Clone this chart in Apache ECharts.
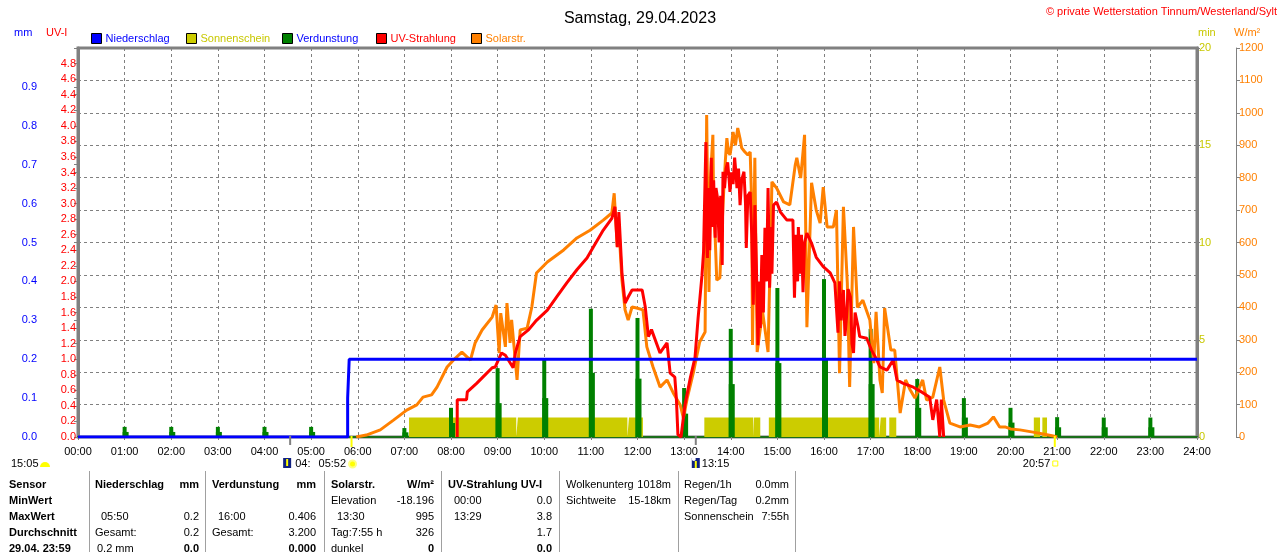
<!DOCTYPE html>
<html><head><meta charset="utf-8">
<script src="https://cdn.jsdelivr.net/npm/echarts@6/dist/echarts.min.js"></script>
<style>html,body{margin:0;padding:0;background:#fff}#c{width:1280px;height:552px}</style>
</head><body><div id="c"></div>
<script>
// ---- data ----
const hourLabels = ['00:00','01:00','02:00','03:00','04:00','05:00','06:00','07:00','08:00','09:00','10:00','11:00','12:00','13:00','14:00','15:00','16:00','17:00','18:00','19:00','20:00','21:00','22:00','23:00','24:00'];

const rainTimes  = ['00:00','05:47','05:47','05:49','05:49','24:00'];
const rainValues = [0, 0, 0.1, 0.1, 0.2, 0.2];

const sunStart = ['07:06','09:26','11:49','13:26','14:30','14:49','17:04','17:13','17:24','20:30','20:41'];
const sunEnd   = ['09:24','11:47','12:07','14:29','14:38','16:58','17:11','17:20','17:33','20:38','20:47'];

const evapTimes = ['01:00','02:00','03:00','04:00','05:00','07:00','08:00','09:00','10:00','11:00','12:00','13:00','14:00','15:00','16:00','17:00','18:00','19:00','20:00','21:00','22:00','23:00'];
const evapPeak  = [0.026,0.026,0.026,0.026,0.026,0.023,0.075,0.177,0.203,0.330,0.306,0.126,0.278,0.383,0.406,0.278,0.149,0.100,0.075,0.051,0.050,0.050];
const evapBase  = [0.013,0.013,0.013,0.013,0.013,0.012,0.036,0.087,0.100,0.165,0.150,0.060,0.136,0.190,0.200,0.136,0.075,0.050,0.037,0.025,0.025,0.025];

const solarTimes = ['05:58','06:11','06:29','06:46','07:03','07:16','07:24','07:35','07:42','07:55','08:03','08:14','08:25','08:31','08:40','08:53','08:58','09:02','09:04','09:10','09:12','09:16','09:18','09:25','09:29','09:38','09:44','09:50','10:04','10:25','10:42','10:59','11:16','11:27','11:30','11:34','11:36','11:40','11:44','11:48','11:53','11:59','12:07','12:12','12:20','12:29','12:38','12:46','12:55','12:59','13:04','13:12','13:20','13:27','13:29','13:31','13:32','13:34','13:37','13:38','13:40','13:42','13:44','13:46','13:48','13:50','13:53','13:55','13:57','13:59','14:01','14:03','14:06','14:09','14:12','14:14','14:18','14:22','14:25','14:27','14:28','14:31','14:34','14:41','14:48','14:53','14:59','15:08','15:16','15:23','15:25','15:30','15:35','15:38','15:44','15:50','15:55','15:59','16:04','16:12','16:16','16:20','16:25','16:30','16:33','16:38','16:43','16:50','16:59','17:04','17:07','17:12','17:15','17:18','17:26','17:31','17:38','17:45','17:51','17:57','18:07','18:12','18:20','18:29','18:34','18:42','18:55','19:08','19:20','19:31','19:38','19:46','19:53','20:00','20:12','20:29','20:42','20:55','21:00'];
const solarValues = [0,6,22,52,83,99,123,130,154,216,237,262,237,290,330,370,407,259,382,278,413,290,361,176,330,336,401,506,540,577,614,638,669,691,752,586,648,484,392,361,401,398,392,278,216,154,176,136,99,59,120,200,293,324,993,600,447,800,932,700,614,484,484,491,600,716,850,922,880,870,900,941,900,953,920,892,880,870,879,716,284,861,262,386,262,787,768,725,716,839,861,799,932,339,784,700,660,771,648,648,700,197,710,475,154,648,400,422,361,228,386,176,136,398,268,268,74,176,145,120,176,114,123,216,114,43,31,37,31,43,62,31,31,25,22,15,9,3,0];

const uvTimes = ['08:08','08:08','08:20','08:21','08:33','08:41','08:53','08:57','09:05','09:10','09:20','09:23','09:29','09:40','09:50','10:04','10:16','10:29','10:42','10:55','11:03','11:16','11:27','11:31','11:34','11:36','11:40','11:44','11:48','11:53','12:06','12:10','12:14','12:18','12:29','12:38','12:42','12:48','12:50','12:52','12:56','13:01','13:08','13:14','13:18','13:23','13:25','13:28','13:29','13:30','13:31','13:33','13:35','13:36','13:38','13:40','13:41','13:43','13:45','13:47','13:49','13:50','13:52','13:54','13:56','13:58','13:59','14:01','14:03','14:05','14:07','14:08','14:10','14:12','14:14','14:17','14:19','14:20','14:22','14:25','14:27','14:29','14:31','14:33','14:35','14:37','14:38','14:40','14:42','14:44','14:46','14:48','14:50','14:52','14:53','14:55','14:59','15:04','15:12','15:20','15:22','15:24','15:26','15:27','15:29','15:31','15:33','15:35','15:38','15:44','15:50','15:59','16:08','16:14','16:18','16:20','16:22','16:25','16:27','16:29','16:31','16:34','16:36','16:38','16:40','16:44','16:46','16:55','17:01','17:06','17:12','17:21','17:29','17:34','17:42','17:55','18:07','18:16','18:20','18:25','18:29','18:31','18:34'];
const uvValues = [0,0.48,0.48,0.58,0.69,0.77,0.89,0.90,1.08,1.05,0.89,1.09,1.29,1.38,1.50,1.63,1.80,1.98,2.15,2.30,2.44,2.66,2.81,2.96,2.44,2.89,2.11,1.72,1.80,1.89,1.89,1.67,1.29,1.38,1.08,1.21,0.82,0.77,0.50,0.03,0,0.41,0.76,1.02,1.53,2.08,2.38,3.79,2.60,2.30,3.20,2.40,3.59,2.70,3.30,2.56,3.20,3.07,2.50,3.10,2.21,3.41,3.20,3.45,3.53,3.30,3.15,3.40,3.25,3.59,3.35,3.20,3.45,2.98,3.30,3.41,3.00,2.43,3.10,3.15,2.60,1.70,2.98,2.20,1.18,2.00,1.40,2.34,1.60,2.69,2.00,3.20,1.92,2.70,2.10,2.98,3.02,2.89,2.79,2.79,1.79,2.60,2.00,2.70,2.10,2.60,1.86,2.50,2.62,2.49,2.31,2.19,2.11,1.98,1.34,2.00,1.50,1.89,1.30,1.54,1.90,1.80,1.20,1.08,1.60,1.41,1.29,1.27,1.12,1.03,0.90,0.86,0.99,0.73,0.69,0.64,0.57,0.51,0.22,0.48,0,0.48,0];

// ---- helpers ----
function tm(s){const p=s.split(':');return (+p[0])*60+(+p[1]);}
function pairs(t,v){return t.map((s,i)=>[tm(s),v[i]]);}
const sunData=[[0,0]];
sunStart.forEach((s,i)=>{sunData.push([tm(s),1]);sunData.push([tm(sunEnd[i]),0]);});
sunData.push([1440,0]);

const FONT='"Liberation Sans", Arial, sans-serif';
const GRAY='#808080';
const chart=echarts.init(document.getElementById('c'),null,{renderer:'canvas'});

function leg(name,left,color){
  return {show:true,selectedMode:false,left:left,top:28,itemWidth:10,itemHeight:10,icon:'rect',
    itemStyle:{borderColor:'#000',borderWidth:1},
    textStyle:{fontFamily:FONT,fontSize:11,color:color,padding:[0,0,0,-1]},
    data:[{name:name}]};
}

const option={
  animation:false,
  backgroundColor:'#fff',
  title:{text:'Samstag, 29.04.2023',left:'center',top:6,textStyle:{fontFamily:FONT,fontSize:16,fontWeight:'normal',color:'#000'}},
  legend:[leg('Niederschlag',86,'#0000ff'),leg('Sonnenschein',181,'#c8c800'),leg('Verdunstung',277,'#0000ff'),leg('UV-Strahlung',371,'#ff0000'),leg('Solarstr.',466,'#ff8000')],
  grid:{left:78,right:83,top:48,bottom:115,show:true,borderColor:GRAY,borderWidth:3,backgroundColor:'#fff'},
  xAxis:{type:'value',min:0,max:1440,interval:60,
    axisLine:{lineStyle:{color:'#1a6e1a',width:2}},
    axisTick:{show:true,length:3,lineStyle:{color:GRAY}},
    axisLabel:{margin:9,fontFamily:FONT,fontSize:11,color:'#000',formatter:v=>hourLabels[Math.round(v/60)]},
    splitLine:{show:true,lineStyle:{color:GRAY,type:[3,3],width:1}}},
  yAxis:[
    {type:'value',position:'left',offset:38,min:0,max:1.0,interval:0.1,
      axisLine:{show:true,lineStyle:{color:GRAY,width:1}},axisTick:{show:true,length:4,lineStyle:{color:GRAY}},
      axisLabel:{margin:3,fontFamily:FONT,fontSize:11,color:'#0000ff',formatter:v=>v>=0.999?'':v.toFixed(1)},splitLine:{show:false}},
    {type:'value',position:'left',offset:0,min:0,max:5,interval:0.2,
      axisLine:{show:true,lineStyle:{color:GRAY,width:3}},axisTick:{show:true,length:4,lineStyle:{color:GRAY}},
      axisLabel:{margin:2,fontFamily:FONT,fontSize:11,color:'#ff0000',formatter:v=>v>=4.99?'':v.toFixed(1)},splitLine:{show:false}},
    {type:'value',position:'right',offset:0,min:0,max:20,interval:5,
      axisLine:{show:true,lineStyle:{color:GRAY,width:3}},axisTick:{show:true,length:3,lineStyle:{color:GRAY}},
      axisLabel:{margin:2,fontFamily:FONT,fontSize:11,color:'#c8c800',formatter:v=>String(v)},splitLine:{show:false}},
    {type:'value',position:'right',offset:39,min:0,max:1200,interval:100,
      axisLine:{show:true,lineStyle:{color:GRAY,width:1}},axisTick:{show:true,length:4,lineStyle:{color:GRAY}},
      axisLabel:{margin:3,fontFamily:FONT,fontSize:11,color:'#ff8000',formatter:v=>String(v)},
      splitLine:{show:true,lineStyle:{color:GRAY,type:[3,3],width:1}}}
  ],
  series:[
    {name:'Sonnenschein',type:'line',yAxisIndex:2,step:'end',symbol:'none',color:'#cccc00',
      lineStyle:{width:0},areaStyle:{color:'#cccc00',opacity:1},data:sunData,z:2},
    {name:'Verdunstung',type:'bar',yAxisIndex:0,color:'#008000',barWidth:6,itemStyle:{color:'#008000'},
      data:pairs(evapTimes,evapBase),z:3},
    {name:'Verdunstung',type:'bar',yAxisIndex:0,color:'#008000',barWidth:4,barGap:'-100%',itemStyle:{color:'#008000'},
      data:pairs(evapTimes,evapPeak),z:3},
    {name:'Solarstr.',type:'line',yAxisIndex:3,symbol:'none',color:'#ff8000',lineStyle:{width:3,color:'#ff8000'},
      data:pairs(solarTimes,solarValues),z:4},
    {name:'UV-Strahlung',type:'line',yAxisIndex:1,symbol:'none',color:'#ff0000',lineStyle:{width:3,color:'#ff0000'},
      data:pairs(uvTimes,uvValues),z:5},
    {name:'Niederschlag',type:'line',yAxisIndex:0,symbol:'none',color:'#0000ff',lineStyle:{width:3,color:'#0000ff'},
      data:pairs(rainTimes,rainValues),z:6}
  ]
};
chart.setOption(option);

// ---- annotations (text, table) ----
function txt(x,y,s,o){o=o||{};return {type:'text',x:x,y:y,silent:true,z:100,
  style:{text:s,font:(o.bold?'bold ':'')+(o.size||11)+'px '+FONT,fill:o.color||'#000',
  textAlign:o.align||'left',textVerticalAlign:'middle'}};}
const px=m=>chart.convertToPixel({xAxisIndex:0},m);
const g=[];
g.push(txt(1277,12,'© private Wetterstation Tinnum/Westerland/Sylt',{color:'#ff0000',align:'right'}));
g.push(txt(14,33,'mm',{color:'#0000ff'}));
g.push(txt(46,33,'UV-I',{color:'#ff0000'}));
g.push(txt(1198,33,'min',{color:'#c8c800'}));
g.push(txt(1234,33,'W/m²',{color:'#ff8000'}));

// astro markers
const xMoonRise=px(tm('04:33')), xSunRise=px(tm('05:52')), xMoon2=px(tm('13:15')), xSunSet=px(tm('20:57'));
[xMoonRise,xMoon2].forEach(x=>g.push({type:'line',silent:true,z:99,shape:{x1:x,y1:436,x2:x,y2:445},style:{stroke:GRAY,lineWidth:2}}));
[xSunRise,xSunSet].forEach(x=>g.push({type:'line',silent:true,z:99,shape:{x1:x,y1:436,x2:x,y2:447},style:{stroke:'#ffff00',lineWidth:2}}));
g.push(txt(11,464,'15:05'));
g.push({type:'sector',silent:true,z:100,shape:{cx:45,cy:467,r:5,startAngle:Math.PI,endAngle:2*Math.PI},style:{fill:'#ffff00'}});
g.push({type:'rect',silent:true,z:100,shape:{x:xMoonRise-7,y:458,width:8,height:10},style:{fill:'#102080'}});
g.push({type:'line',silent:true,z:101,shape:{x1:xMoonRise-3,y1:459,x2:xMoonRise-3,y2:466},style:{stroke:'#ffff00',lineWidth:2}});
g.push(txt(xMoonRise+5,464,'04:'));
g.push(txt(xSunRise-33,464,'05:52'));
g.push({type:'circle',silent:true,z:100,shape:{cx:xSunRise+1,cy:464,r:3.5},style:{fill:'#ffff00',stroke:'#ffff80',lineWidth:2}});
g.push({type:'rect',silent:true,z:100,shape:{x:xMoon2-4,y:458,width:8,height:10},style:{fill:'#102080'}});
g.push({type:'line',silent:true,z:101,shape:{x1:xMoon2,y1:461,x2:xMoon2,y2:468},style:{stroke:'#ffff00',lineWidth:2}});
g.push({type:'circle',silent:true,z:101,shape:{cx:xMoon2-2,cy:459,r:2},style:{fill:'#ffffff'}});
g.push(txt(xMoon2+6,464,'13:15'));
g.push(txt(xSunSet-32,464,'20:57'));
g.push({type:'rect',silent:true,z:100,shape:{x:xSunSet-2,y:461,width:5,height:5},style:{fill:'none',stroke:'#ffff00',lineWidth:1}});

// table
[89,205,324,441,559,678,795].forEach(x=>g.push({type:'line',silent:true,z:99,shape:{x1:x+0.5,y1:471,x2:x+0.5,y2:552},style:{stroke:'#a0a0a0',lineWidth:1}}));
const R=[485,501,517,533,549];
const B={bold:true};
g.push(txt(9,R[0],'Sensor',B),txt(9,R[1],'MinWert',B),txt(9,R[2],'MaxWert',B),txt(9,R[3],'Durchschnitt',B),txt(9,R[4],'29.04. 23:59',B));
g.push(txt(95,R[0],'Niederschlag',B),txt(199,R[0],'mm',{bold:true,align:'right'}));
g.push(txt(101,R[2],'05:50'),txt(199,R[2],'0.2',{align:'right'}));
g.push(txt(95,R[3],'Gesamt:'),txt(199,R[3],'0.2',{align:'right'}));
g.push(txt(97,R[4],'0.2 mm'),txt(199,R[4],'0.0',{bold:true,align:'right'}));
g.push(txt(212,R[0],'Verdunstung',B),txt(316,R[0],'mm',{bold:true,align:'right'}));
g.push(txt(218,R[2],'16:00'),txt(316,R[2],'0.406',{align:'right'}));
g.push(txt(212,R[3],'Gesamt:'),txt(316,R[3],'3.200',{align:'right'}));
g.push(txt(316,R[4],'0.000',{bold:true,align:'right'}));
g.push(txt(331,R[0],'Solarstr.',B),txt(434,R[0],'W/m²',{bold:true,align:'right'}));
g.push(txt(331,R[1],'Elevation'),txt(434,R[1],'-18.196',{align:'right'}));
g.push(txt(337,R[2],'13:30'),txt(434,R[2],'995',{align:'right'}));
g.push(txt(331,R[3],'Tag:7:55 h'),txt(434,R[3],'326',{align:'right'}));
g.push(txt(331,R[4],'dunkel'),txt(434,R[4],'0',{bold:true,align:'right'}));
g.push(txt(448,R[0],'UV-Strahlung UV-I',B));
g.push(txt(454,R[1],'00:00'),txt(552,R[1],'0.0',{align:'right'}));
g.push(txt(454,R[2],'13:29'),txt(552,R[2],'3.8',{align:'right'}));
g.push(txt(552,R[3],'1.7',{align:'right'}));
g.push(txt(552,R[4],'0.0',{bold:true,align:'right'}));
g.push(txt(566,R[0],'Wolkenunterg'),txt(671,R[0],'1018m',{align:'right'}));
g.push(txt(566,R[1],'Sichtweite'),txt(671,R[1],'15-18km',{align:'right'}));
g.push(txt(684,R[0],'Regen/1h'),txt(789,R[0],'0.0mm',{align:'right'}));
g.push(txt(684,R[1],'Regen/Tag'),txt(789,R[1],'0.2mm',{align:'right'}));
g.push(txt(684,R[2],'Sonnenschein'),txt(789,R[2],'7:55h',{align:'right'}));
chart.setOption({graphic:g});
</script></body></html>
